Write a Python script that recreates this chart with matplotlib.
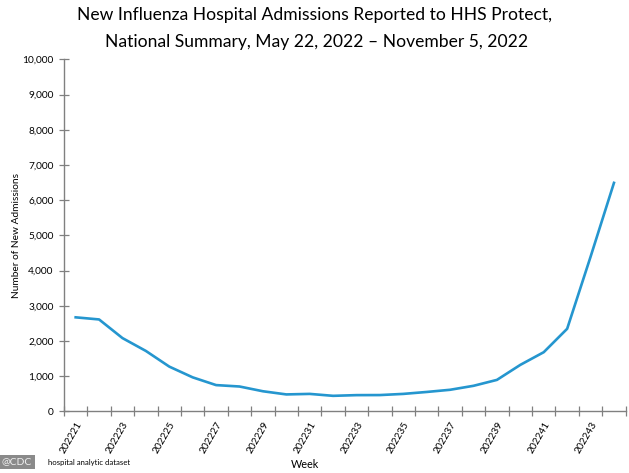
import matplotlib
matplotlib.use("Agg")
import matplotlib.pyplot as plt
from matplotlib.ticker import FuncFormatter, FixedLocator

weeks = ["202221", "202222", "202223", "202224", "202225", "202226", "202227", "202228",
         "202229", "202230", "202231", "202232", "202233", "202234", "202235", "202236",
         "202237", "202238", "202239", "202240", "202241", "202242", "202243", "202244"]
admissions = [2670, 2610, 2080, 1715, 1270, 965, 745, 705, 570, 480, 495, 440,
              460, 462, 495, 550, 612, 725, 893, 1320, 1680, 2345, 4390, 6490]
yticks = [0, 1000, 2000, 3000, 4000, 5000, 6000, 7000, 8000, 9000, 10000]

plt.rcParams['font.family'] = ['Lato', 'DejaVu Sans']

fig = plt.figure(figsize=(6.29, 4.73), dpi=100)
ax = fig.add_axes([0.1017, 0.1304, 0.893, 0.7442])

xs = [i + 0.5 for i in range(len(weeks))]
ax.plot(xs, admissions, color='#2596cf', lw=1.9, solid_joinstyle='round')

ax.set_xlim(0, len(weeks))
ax.set_ylim(0, 10000)
ax.set_yticks(yticks)
ax.yaxis.set_major_formatter(FuncFormatter(lambda v, p: f"{int(v):,}"))

ax.xaxis.set_major_locator(FixedLocator(list(range(len(weeks) + 1))))
ax.xaxis.set_major_formatter(FuncFormatter(lambda v, p: ""))
lab_pos = [xs[i] for i in range(0, len(weeks), 2)]
ax.xaxis.set_minor_locator(FixedLocator(lab_pos))
ax.set_xticklabels([weeks[i] for i in range(0, len(weeks), 2)], minor=True,
                   rotation=60, ha='right', va='top', rotation_mode='anchor', fontsize=7.3)
ax.tick_params(axis='x', which='minor', length=0, pad=6)
ax.tick_params(axis='x', which='major', direction='inout', length=7, color='#808080', width=0.9)
ax.tick_params(axis='y', direction='inout', length=7, color='#808080', width=0.9, labelsize=7.3, pad=4)

for s in ['top', 'right']:
    ax.spines[s].set_visible(False)
for s in ['left', 'bottom']:
    ax.spines[s].set_color('#808080')
    ax.spines[s].set_linewidth(1.0)

ax.set_ylabel("Number of New Admissions", fontsize=7.3)
ax.yaxis.set_label_coords(-0.0765, 0.5)
fig.text(0.485, 0.017, "Week", fontsize=7.8, ha='center', va='center')

fig.text(0.5, 0.968, "New Influenza Hospital Admissions Reported to HHS Protect,",
         fontsize=12.6, ha='center', va='center')
fig.text(0.503, 0.911, "National Summary, May 22, 2022 \u2013 November 5, 2022",
         fontsize=12.6, ha='center', va='center')

fig.text(0.077, 0.023, "hospital analytic dataset", fontsize=5.6,
         ha='left', va='center')
fig.text(0.003, 0.023, "@CDC", fontsize=7.5, color='#f0f0f0', ha='left', va='center',
         bbox=dict(boxstyle='square,pad=0.25', fc='#8a8a8a', ec='none'))

fig.savefig("out.png", dpi=100)
